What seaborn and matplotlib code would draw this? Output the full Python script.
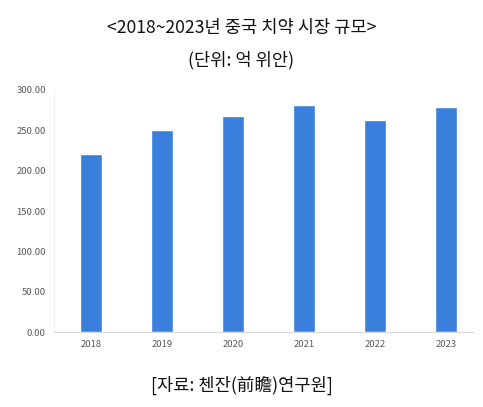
import matplotlib
matplotlib.use("Agg")
import matplotlib.pyplot as plt
import seaborn as sns
import pandas as pd

years = ["2018", "2019", "2020", "2021", "2022", "2023"]
values = [221.2, 250.5, 267.4, 281.5, 263.3, 279.0]
yticks = [0, 50, 100, 150, 200, 250, 300]

title = "<2018~2023년 중국 치약 시장 규모>"
subtitle = "(단위: 억 위안)"
source = "[자료: 첸잔(前瞻)연구원]"

sns.set_style("white")
plt.rcParams['font.family'] = ['Noto Sans CJK KR', 'DejaVu Sans']

df = pd.DataFrame({"year": years, "value": values})

fig = plt.figure(figsize=(4.83, 4.07), dpi=100)
ax = fig.add_axes([0.112, 0.184, 0.867, 0.595])
sns.barplot(data=df, x="year", y="value", color="#3a7fdb", saturation=1,
            width=0.31, ax=ax)
ax.set_ylim(0, 300)
ax.set_xlim(-0.52, 5.38)
ax.set_yticks(yticks)
ax.set_yticklabels([f"{v:.2f}" for v in yticks])
ax.set_xlabel("")
ax.set_ylabel("")
ax.tick_params(axis='both', length=0, labelsize=6.8, labelcolor="#595959", pad=6)
for s in ["top", "right"]:
    ax.spines[s].set_visible(False)
ax.spines["left"].set_color("#f0f0f0")
ax.spines["bottom"].set_color("#d9d9d9")
ax.spines["left"].set_linewidth(0.8)
ax.spines["bottom"].set_linewidth(0.8)

fig.text(0.5, 1 - 28/407, title, ha="center", va="center", fontsize=12.7, color="#111111")
fig.text(0.5, 1 - 60/407, subtitle, ha="center", va="center", fontsize=12.7, color="#111111")
fig.text(0.5, 1 - 385/407, source, ha="center", va="center", fontsize=12.7, color="#111111")

fig.savefig("out.png", dpi=100)
